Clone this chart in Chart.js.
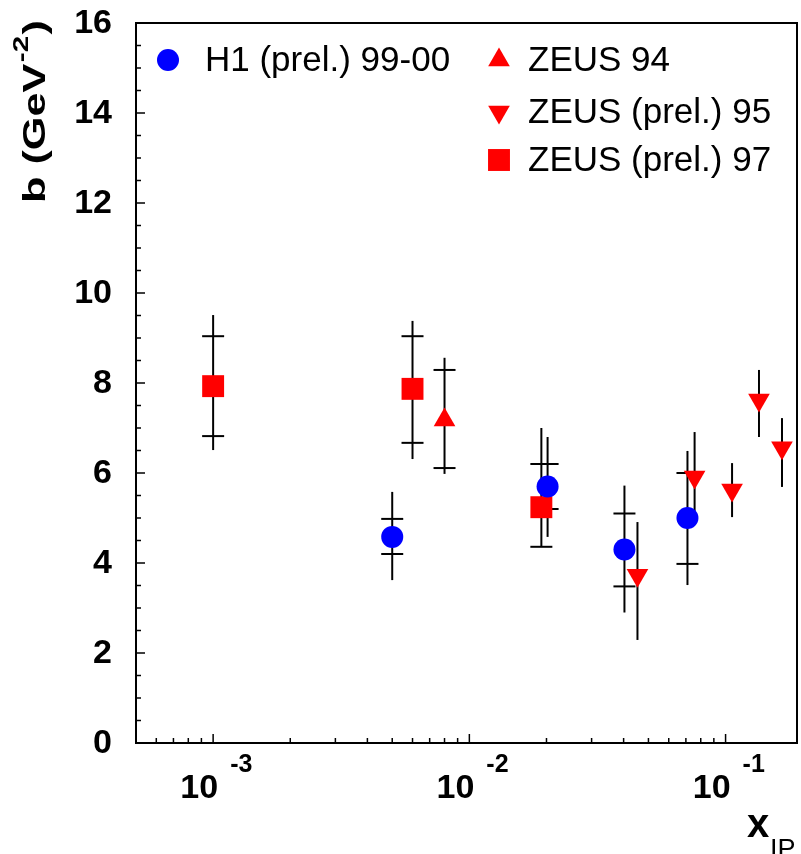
<!DOCTYPE html>
<html>
<head>
<meta charset="utf-8">
<script src="https://cdn.jsdelivr.net/npm/chart.js@4/dist/chart.umd.min.js"></script>
<style>
  html, body { margin: 0; padding: 0; background: #fff; }
  #wrap { width: 801px; height: 854px; }
</style>
</head>
<body>
<div id="wrap"><canvas id="bChart" width="801" height="854"></canvas></div>
<script>
// H1 (prel.) 99-00
const h1X = [0.005, 0.0202, 0.0403, 0.071];
const h1B = [4.58, 5.7, 4.3, 5.0];
const h1StatUp = [0.4, 0.5, 0.8, 1.0];
const h1StatDn = [0.38, 0.5, 0.82, 1.02];
const h1TotUp = [1.0, 1.1, 1.42, 1.49];
const h1TotDn = [0.96, 1.12, 1.4, 1.49];

// ZEUS 94
const z94X = [0.008];
const z94B = [7.18];
const z94StatUp = [1.11];
const z94StatDn = [1.07];
const z94TotUp = [1.38];
const z94TotDn = [1.2];

// ZEUS (prel.) 95 - total errors only
const z95X = [0.0453, 0.0757, 0.106, 0.135, 0.166];
const z95B = [3.73, 5.91, 5.62, 7.62, 6.56];
const z95TotUp = [1.18, 1.0, 0.6, 0.67, 0.66];
const z95TotDn = [1.44, 1.0, 0.6, 0.82, 0.87];

// ZEUS (prel.) 97
const z97X = [0.001, 0.006, 0.0191];
const z97B = [7.93, 7.87, 5.24];
const z97StatUp = [1.11, 1.17, 0.96];
const z97StatDn = [1.11, 1.2, 0.88];
const z97TotUp = [1.58, 1.51, 1.76];
const z97TotDn = [1.42, 1.56, 0.88];

// axis ticks
const yTickLabels = [0, 2, 4, 6, 8, 10, 12, 14, 16];
const xDecades = [-3, -2, -1];

const legendNames = ['H1 (prel.) 99-00', 'ZEUS 94', 'ZEUS (prel.) 95', 'ZEUS (prel.) 97'];

const BLUE = '#0000ff';
const RED = '#ff0000';
const FONT = '"Liberation Sans", Arial, Helvetica, sans-serif';

function pts(xs, ys) {
  return xs.map((v, i) => ({ x: v, y: ys[i] }));
}

const datasets = [
  {
    label: legendNames[0], data: pts(h1X, h1B),
    pointStyle: 'circle', pointRadius: 11, backgroundColor: BLUE, borderColor: BLUE, borderWidth: 0,
    err: { statUp: h1StatUp, statDn: h1StatDn, totUp: h1TotUp, totDn: h1TotDn }
  },
  {
    label: legendNames[1], data: pts(z94X, z94B),
    pointStyle: 'triangle', pointRadius: 12.5, backgroundColor: RED, borderColor: RED, borderWidth: 0,
    err: { statUp: z94StatUp, statDn: z94StatDn, totUp: z94TotUp, totDn: z94TotDn }
  },
  {
    label: legendNames[2], data: pts(z95X, z95B),
    pointStyle: 'triangle', rotation: 180, pointRadius: 12.5, backgroundColor: RED, borderColor: RED, borderWidth: 0,
    err: { statUp: null, statDn: null, totUp: z95TotUp, totDn: z95TotDn }
  },
  {
    label: legendNames[3], data: pts(z97X, z97B),
    pointStyle: 'rect', pointRadius: 15.5, backgroundColor: RED, borderColor: RED, borderWidth: 0,
    err: { statUp: z97StatUp, statDn: z97StatDn, totUp: z97TotUp, totDn: z97TotDn }
  }
];

// error bars under the markers
const errorBars = {
  id: 'errorBars',
  beforeDatasetsDraw(chart) {
    const { ctx, scales: { x, y } } = chart;
    ctx.save();
    ctx.strokeStyle = '#000';
    ctx.lineWidth = 2;
    chart.data.datasets.forEach(ds => {
      const e = ds.err;
      ds.data.forEach((p, i) => {
        const px = x.getPixelForValue(p.x);
        ctx.beginPath();
        ctx.moveTo(px, y.getPixelForValue(p.y + e.totUp[i]));
        ctx.lineTo(px, y.getPixelForValue(p.y - e.totDn[i]));
        ctx.stroke();
        if (e.statUp) {
          [p.y + e.statUp[i], p.y - e.statDn[i]].forEach(v => {
            const py = y.getPixelForValue(v);
            ctx.beginPath();
            ctx.moveTo(px - 11, py);
            ctx.lineTo(px + 11, py);
            ctx.stroke();
          });
        }
      });
    });
    ctx.restore();
  }
};

// frame, inward ticks, labels, titles, legend
const decor = {
  id: 'decor',
  afterDraw(chart) {
    const { ctx, chartArea: a, scales: { x, y } } = chart;
    ctx.save();
    ctx.strokeStyle = '#000';
    ctx.fillStyle = '#000';
    ctx.lineWidth = 2;
    ctx.strokeRect(a.left, a.top, a.right - a.left, a.bottom - a.top);

    // y ticks
    ctx.lineWidth = 1.5;
    for (let v = 0; v <= 16; v += 0.5) {
      const py = y.getPixelForValue(v);
      const len = v % 2 === 0 ? 9 : 5;
      ctx.beginPath();
      ctx.moveTo(a.left, py);
      ctx.lineTo(a.left + len, py);
      ctx.stroke();
    }
    // x ticks (log)
    for (let d = -4; d <= 0; d++) {
      for (let m = 1; m <= 9; m++) {
        const v = m * Math.pow(10, d);
        if (v < x.min || v > x.max) continue;
        const px = x.getPixelForValue(v);
        const len = m === 1 ? 9 : 5;
        ctx.beginPath();
        ctx.moveTo(px, a.bottom);
        ctx.lineTo(px, a.bottom - len);
        ctx.stroke();
      }
    }

    // y labels
    ctx.font = 'bold 34px ' + FONT;
    ctx.textAlign = 'right';
    ctx.textBaseline = 'middle';
    yTickLabels.forEach(v => {
      ctx.fillText(String(v), 112, y.getPixelForValue(v) + 1);
    });

    // x labels 10^n
    ctx.textBaseline = 'alphabetic';
    xDecades.forEach(d => {
      const px = x.getPixelForValue(Math.pow(10, d));
      ctx.font = 'bold 34px ' + FONT;
      ctx.textAlign = 'right';
      ctx.fillText('10', px + 5, 798);
      ctx.font = 'bold 25px ' + FONT;
      ctx.textAlign = 'left';
      ctx.fillText(String(d), px + 17, 772);
    });

    // x title
    ctx.font = 'bold 40px ' + FONT;
    ctx.textAlign = 'left';
    ctx.fillText('x', 747, 837);
    ctx.font = '27px ' + FONT;
    ctx.fillText('IP', 770, 858);

    // y title, rotated
    ctx.save();
    ctx.translate(45, 203);
    ctx.rotate(-Math.PI / 2);
    const mainF = 'bold 32px ' + FONT;
    const supF = 'bold 22px ' + FONT;
    ctx.font = mainF; const w1 = ctx.measureText('b (GeV').width;
    ctx.font = supF; const w2 = ctx.measureText('-2').width;
    ctx.font = mainF; const w3 = ctx.measureText(')').width;
    const sx = 183 / (w1 + w2 + w3 + 2);
    ctx.scale(sx, 1);
    ctx.textAlign = 'left';
    ctx.font = mainF; ctx.fillText('b (GeV', 0, 0);
    ctx.font = supF; ctx.fillText('-2', w1 + 1, -17);
    ctx.font = mainF; ctx.fillText(')', w1 + w2 + 2, 0);
    ctx.restore();

    // legend
    ctx.font = '35px ' + FONT;
    ctx.textAlign = 'left';
    ctx.textBaseline = 'middle';
    const items = [
      { ds: 0, mx: 168, my: 60, tx: 205 },
      { ds: 1, mx: 499, my: 60, tx: 528 },
      { ds: 2, mx: 499, my: 112, tx: 528 },
      { ds: 3, mx: 499, my: 160, tx: 528 }
    ];
    items.forEach(it => {
      const ds = chart.data.datasets[it.ds];
      ctx.fillStyle = ds.backgroundColor;
      Chart.helpers.drawPoint(ctx, {
        pointStyle: ds.pointStyle, rotation: ds.rotation || 0,
        radius: ds.pointRadius, borderWidth: 0
      }, it.mx, it.my);
      ctx.fillStyle = '#000';
      ctx.fillText(ds.label, it.tx, it.my + 1);
    });
    ctx.restore();
  }
};

new Chart(document.getElementById('bChart'), {
  type: 'scatter',
  data: { datasets: datasets },
  options: {
    responsive: false,
    animation: false,
    layout: { autoPadding: false, padding: { left: 136, top: 23, right: 4, bottom: 111 } },
    plugins: { legend: { display: false }, tooltip: { enabled: false } },
    scales: {
      x: { type: 'logarithmic', min: 0.0005, max: 0.19, display: false },
      y: { type: 'linear', min: 0, max: 16, display: false }
    }
  },
  plugins: [errorBars, decor]
});
</script>
</body>
</html>
